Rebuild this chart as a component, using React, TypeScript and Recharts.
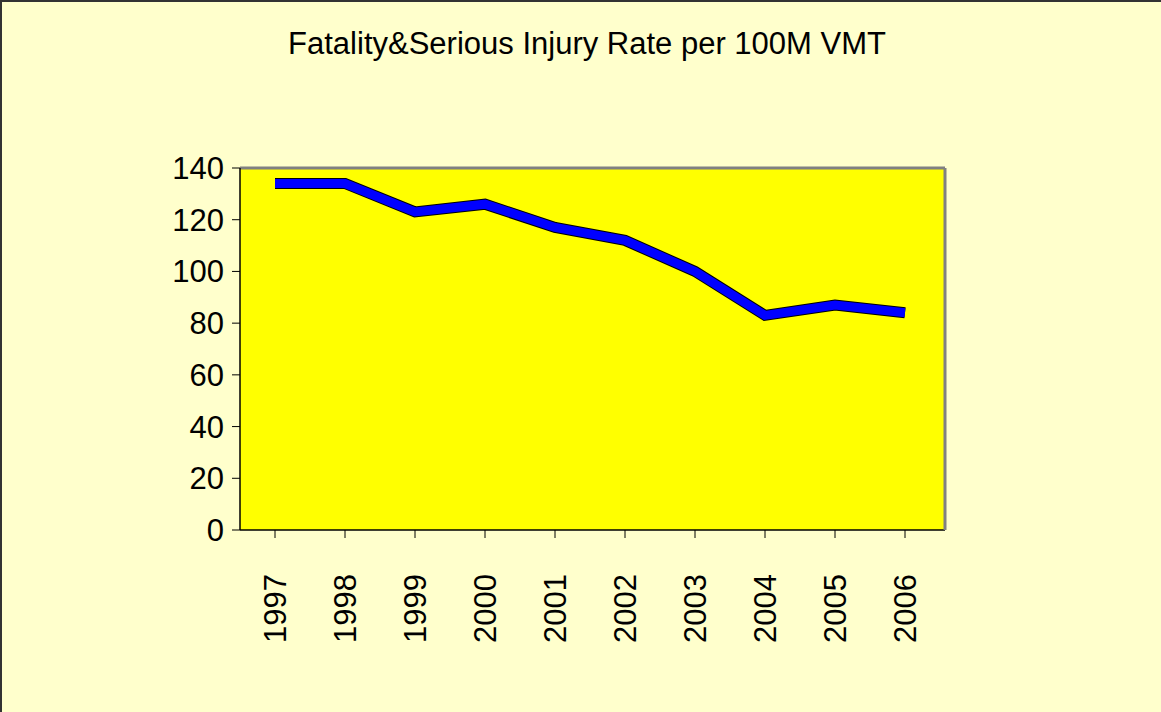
import React from "react";
import {
  LineChart,
  Line,
  XAxis,
  YAxis,
  CartesianGrid,
  ReferenceLine,
} from "recharts";

const years = ["1997", "1998", "1999", "2000", "2001", "2002", "2003", "2004", "2005", "2006"];
const rates = [134, 134, 123, 126, 117, 112, 100, 83, 87, 84];
const yTicks = [0, 20, 40, 60, 80, 100, 120, 140];

const data = years.map((y, i) => ({ year: y, rate: rates[i] }));

const FONT = "'Liberation Sans', Arial, sans-serif";

const YearTick = (props: any) => {
  const { x, y, payload } = props;
  return (
    <text
      x={x}
      y={y}
      transform={`rotate(-90 ${x} ${y})`}
      textAnchor="end"
      dy="0.36em"
      fontFamily={FONT}
      fontSize={31}
      fill="#000"
    >
      {payload.value}
    </text>
  );
};

export default function App() {
  return (
    <div
      style={{
        position: "absolute",
        left: 0,
        top: 0,
        width: 1161,
        height: 712,
        background: "#FFFFCC",
        boxSizing: "border-box",
        borderLeft: "2px solid #333",
        borderTop: "2px solid #333",
        overflow: "hidden",
      }}
    >
      <div
        style={{
          position: "absolute",
          left: 0,
          top: 24,
          width: 1170,
          textAlign: "center",
          fontFamily: FONT,
          fontSize: 31,
          color: "#000",
        }}
      >
        Fatality&amp;Serious Injury Rate per 100M VMT
      </div>
      <div style={{ position: "absolute", left: -2, top: -2 }}>
        <LineChart
          width={1161}
          height={712}
          data={data}
          margin={{ top: 168, right: 215, left: 0, bottom: 0 }}
        >
          <CartesianGrid
            vertical={false}
            horizontal={true}
            stroke="#000"
            strokeWidth={1}
            fill="#FFFF00"
            fillOpacity={1}
          />
          <XAxis
            dataKey="year"
            height={182}
            padding={{ left: 35, right: 40 }}
            tick={<YearTick />}
            tickSize={8}
            tickMargin={36}
            axisLine={{ stroke: "#000", strokeWidth: 1 }}
            tickLine={{ stroke: "#000" }}
            interval={0}
          />
          <YAxis
            yAxisId="left"
            domain={[0, 140]}
            ticks={yTicks}
            width={240}
            tickSize={8}
            tickMargin={8}
            axisLine={{ stroke: "#000", strokeWidth: 1.5 }}
            tickLine={{ stroke: "#000" }}
            tick={{ fontFamily: FONT, fontSize: 31, fill: "#000" }}
            interval={0}
          />
          <YAxis
            yAxisId="right"
            orientation="right"
            domain={[0, 140]}
            width={1}
            tick={false}
            tickLine={false}
            axisLine={{ stroke: "#808080", strokeWidth: 3 }}
          />
          <ReferenceLine yAxisId="left" y={140} stroke="#808080" strokeWidth={3} />
          <Line
            yAxisId="left"
            dataKey="rate"
            stroke="#000"
            strokeWidth={11}
            dot={false}
            activeDot={false}
            strokeLinejoin="miter"
            isAnimationActive={false}
          />
          <Line
            yAxisId="left"
            dataKey="rate"
            stroke="#0000FF"
            strokeWidth={9}
            dot={false}
            activeDot={false}
            strokeLinejoin="miter"
            isAnimationActive={false}
          />
        </LineChart>
      </div>
    </div>
  );
}
